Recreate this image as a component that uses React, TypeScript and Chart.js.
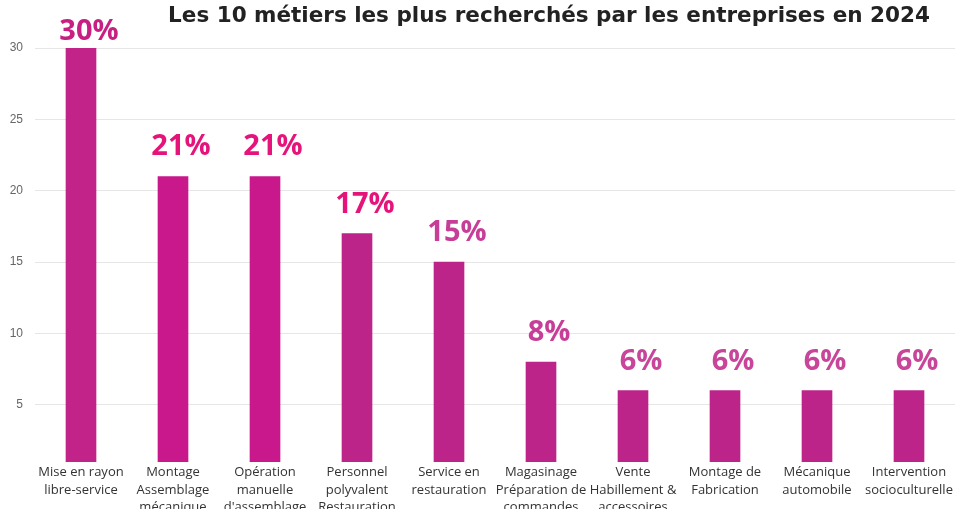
import React, { useEffect, useRef } from "react";
import { Chart, registerables } from "chart.js";

Chart.register(...registerables);

const categories: string[][] = [
  ["Mise en rayon", "libre-service"],
  ["Montage", "Assemblage", "mécanique"],
  ["Opération", "manuelle", "d'assemblage"],
  ["Personnel", "polyvalent", "Restauration"],
  ["Service en", "restauration"],
  ["Magasinage", "Préparation de", "commandes"],
  ["Vente", "Habillement &", "accessoires"],
  ["Montage de", "Fabrication"],
  ["Mécanique", "automobile"],
  ["Intervention", "socioculturelle"],
];
const values: number[] = [30, 21, 21, 17, 15, 8, 6, 6, 6, 6];
const valueLabels: string[] = ["30%", "21%", "21%", "17%", "15%", "8%", "6%", "6%", "6%", "6%"];
const yTicks: number[] = [5, 10, 15, 20, 25, 30];
const title = "Les 10 métiers les plus recherchés par les entreprises en 2024";

const barColors = ["#C12389", "#C9188B", "#C9188B", "#BD248A", "#BD248A", "#BD248A", "#BD248A", "#BD248A", "#BD248A", "#BD248A"];
const labelColors = ["#C81F82", "#E4147A", "#E4147A", "#E4147A", "#C63E97", "#C63E97", "#C8459A", "#C8459A", "#C8459A", "#C8459A"];

const overlayPlugin = {
  id: "overlay",
  afterDatasetsDraw(chart: any) {
    const ctx = chart.ctx;
    const meta = chart.getDatasetMeta(0);
    ctx.save();
    ctx.font = "bold 29px 'Open Sans'";
    ctx.textAlign = "center";
    ctx.textBaseline = "alphabetic";
    meta.data.forEach((bar: any, i: number) => {
      ctx.fillStyle = labelColors[i];
      const y = Math.max(bar.y - 21, 40);
      ctx.fillText(valueLabels[i], bar.x + 8, y);
    });
    ctx.font = "bold 21.5px 'DejaVu Sans'";
    ctx.fillStyle = "#222222";
    ctx.textAlign = "center";
    ctx.fillText(title, 549, 22);
    ctx.restore();
  },
};

export default function App() {
  const ref = useRef<HTMLCanvasElement | null>(null);
  useEffect(() => {
    if (!ref.current) return;
    const chart = new Chart(ref.current, {
      type: "bar",
      data: {
        labels: categories,
        datasets: [
          {
            data: values,
            backgroundColor: barColors,
            borderWidth: 0,
            barThickness: 30,
            categoryPercentage: 1,
          },
        ],
      },
      options: {
        animation: false,
        responsive: false,
        maintainAspectRatio: false,
        layout: { padding: { top: 48, right: 12, left: 0, bottom: 0 } },
        plugins: {
          legend: { display: false },
          title: { display: false },
          tooltip: { enabled: false },
        },
        scales: {
          x: {
            grid: { display: false, drawTicks: false },
            border: { display: false },
            ticks: {
              color: "#333333",
              font: { family: "'Open Sans'", size: 13, lineHeight: 1.33 },
              padding: 2,
              maxRotation: 0,
              autoSkip: false,
            },
            afterFit: (scale: any) => {
              scale.height = 68;
            },
          },
          y: {
            min: 1,
            max: 30,
            grid: { color: "#E6E6E6", lineWidth: 1, drawTicks: false },
            border: { display: false },
            afterBuildTicks: (scale: any) => {
              scale.ticks = yTicks.map((v) => ({ value: v }));
            },
            ticks: {
              color: "#666666",
              font: { family: "'Liberation Sans'", size: 12 },
              padding: 12,
            },
            afterFit: (scale: any) => {
              scale.width = 35;
            },
          },
        },
      },
      plugins: [overlayPlugin],
    });
    return () => chart.destroy();
  }, []);
  return (
    <div style={{ position: "fixed", left: 0, top: 0, width: 967, height: 509, overflow: "hidden", background: "#fff" }}>
      <canvas ref={ref} width={967} height={530} style={{ display: "block", width: 967, height: 530 }} />
    </div>
  );
}
